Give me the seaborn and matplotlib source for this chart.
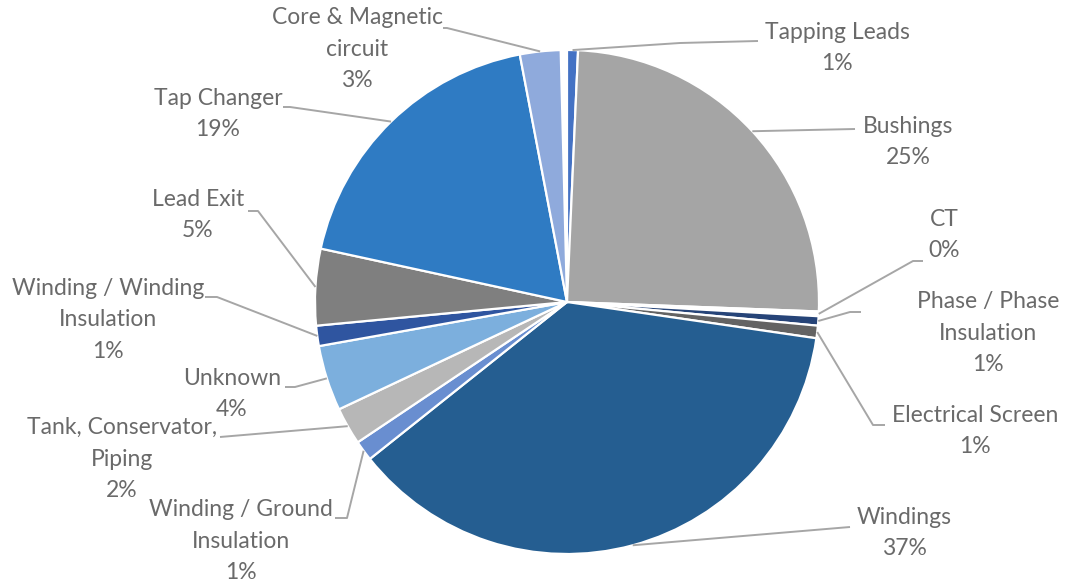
import numpy as np
import matplotlib
matplotlib.use("Agg")
import matplotlib.pyplot as plt
import seaborn as sns

# Failure locations (share of failures, %), clockwise from 12 o'clock
categories = [
    "Tapping Leads", "Bushings", "CT", "Phase / Phase\nInsulation",
    "Electrical Screen", "Windings", "Winding / Ground\nInsulation",
    "Tank, Conservator,\nPiping", "Unknown", "Winding / Winding\nInsulation",
    "Lead Exit", "Tap Changer", "Core & Magnetic\ncircuit",
]
shares = [0.7, 24.9, 0.3, 0.6, 0.8, 37.0, 1.3, 2.4, 4.2, 1.3, 4.9, 18.6, 2.6]
colors = [
    "#4472C4", "#A5A5A5", "#FFFFFF", "#264478", "#636363", "#255E91",
    "#698ED0", "#B7B7B7", "#7CAFDD", "#2F55A0", "#7F7F7F", "#2F7BC3",
    "#8FAADC",
]

sns.set_theme(style="white")
plt.rcParams["font.family"] = ["Lato", "DejaVu Sans"]

W, H = 1070, 582
fig = plt.figure(figsize=(W / 100, H / 100), dpi=100)
ax = fig.add_axes([0, 0, 1, 1])

cx, cy, r = 567, H - 302, 252
wedges, _ = ax.pie(
    np.array(shares) / 100.0, normalize=False, colors=colors,
    startangle=90, counterclock=False, center=(cx, cy), radius=r,
    wedgeprops=dict(edgecolor="white", linewidth=1.6),
)
ax.set_xlim(0, W)
ax.set_ylim(0, H)
ax.set_aspect("equal")
ax.axis("off")

# label layout in pixel coordinates (y measured from the top):
# text block centre, elbow of the leader line, end of the leader line
layout = [
    ((837, 48), (680, 43), (758, 41)),
    ((908, 142), (855, 129), (855, 129)),
    ((944, 235), (913, 261), (923, 261)),
    ((988, 333), (850, 312), (861, 312)),
    ((975, 431), (873, 425), (885, 425)),
    ((904, 533), (850, 527), (850, 527)),
    ((241, 541), (347, 518), (335, 518)),
    ((122, 459), (220, 437), (220, 437)),
    ((232, 394), (295, 387), (285, 387)),
    ((108, 320), (217, 297), (205, 297)),
    ((198, 215), (258, 211), (248, 211)),
    ((218, 114), (290, 107), (283, 107)),
    ((357, 49), (447, 28), (443, 28)),
]

text_color = "#6A6A6A"
line_color = "#A6A6A6"
for wedge, name, val, (tc, elbow, end) in zip(wedges, categories, shares, layout):
    mid = np.deg2rad((wedge.theta1 + wedge.theta2) / 2)
    sx, sy = cx + r * np.cos(mid), cy + r * np.sin(mid)
    xs = [sx, elbow[0], end[0]]
    ys = [sy, H - elbow[1], H - end[1]]
    ax.plot(xs, ys, color=line_color, lw=1.4, solid_capstyle="butt", zorder=1)
    ax.text(tc[0], H - tc[1], f"{name}\n{round(val):.0f}%", ha="center",
            va="center", fontsize=16.5, color=text_color, linespacing=1.62)

fig.savefig("out.png", dpi=100, facecolor="white")
